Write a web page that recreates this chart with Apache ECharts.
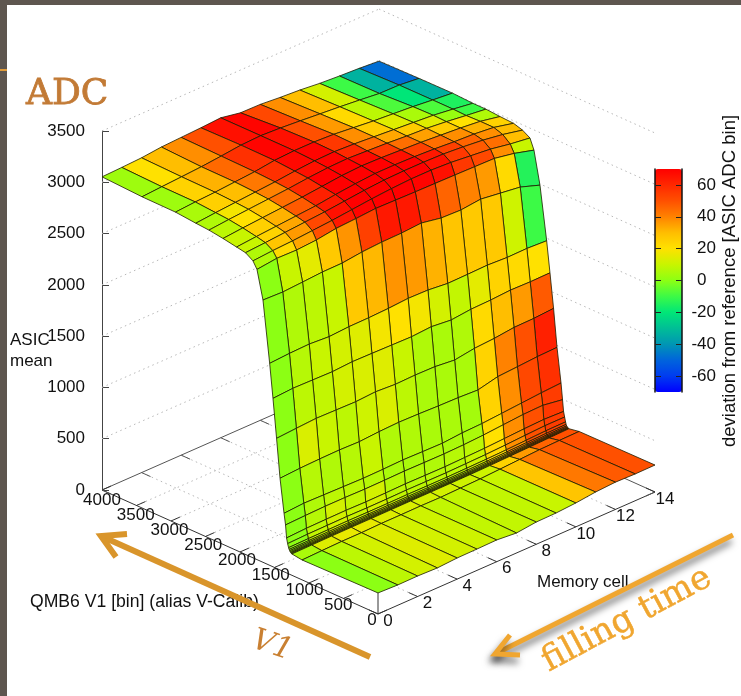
<!DOCTYPE html>
<html><head><meta charset="utf-8">
<style>html,body{margin:0;padding:0;background:#fff;overflow:hidden}#c{width:741px;height:696px}</style>
<script src="https://cdn.jsdelivr.net/npm/echarts@6/dist/echarts.min.js"></script></head>
<body><div id="c"></div>
<script>
const memoryCells=[0,1,2,3,4,5,6,7,8,9,10,11,12,13,14];
const v1Rows=[4000,3420,2935,2640,2450,2246,2050,1920,1812,1754,1667,1570,1522,1470,1420,1362,1340,1325,1310,1296,1288,1280,1272,1264,1256,1248,1100,0];
const meanRows=[
[3053,3060,3069,3089,3098,3107,3119,3083,3080,3063,3050,3030,3017,3007,2992],
[3034,3047,3059,3072,3091,3113,3120,3110,3095,3078,3062,3043,3022,3019,2999],
[3031,3045,3055,3070,3085,3110,3120,3120,3110,3090,3070,3055,3040,3020,3002],
[3012,3030,3045,3060,3075,3095,3110,3115,3105,3090,3075,3060,3045,3020,2992],
[3002,3020,3035,3050,3065,3085,3100,3105,3095,3085,3070,3060,3040,3015,2992],
[2982,3000,3015,3030,3045,3065,3085,3095,3090,3080,3070,3055,3040,3020,2982],
[2958,2975,2990,3005,3020,3045,3065,3080,3080,3075,3065,3050,3040,3020,2975],
[2942,2955,2970,2985,3000,3020,3040,3055,3060,3060,3055,3040,3020,2990,2948],
[2895,2910,2920,2935,2950,2970,2990,3005,3015,3015,3005,2985,2965,2930,2904],
[2829,2852,2848,2861,2889,2900,2914,2910,2906,2903,2900,2896,2892,2856,2803],
[2557,2550,2562,2575,2577,2600,2612,2615,2628,2592,2585,2606,2580,2554,2488],
[1969,1981,1987,1974,1986,1988,1995,2008,2004,1984,1987,1992,1982,1985,1975],
[1642,1655,1651,1647,1659,1656,1652,1648,1661,1641,1661,1666,1678,1674,1677],
[1268,1281,1293,1289,1285,1297,1285,1290,1287,1267,1296,1308,1330,1333,1346],
[894,906,912,915,910,923,930,926,919,915,905,950,962,975,981],
[570,583,579,575,571,574,580,576,573,589,595,610,625,640,651],
[463,470,475,475,472,474,478,476,475,480,490,505,520,525,495],
[341,350,353,355,352,354,358,356,355,360,365,375,385,392,385],
[290,296,298,300,298,299,302,301,300,304,308,316,326,335,335],
[255,258,260,262,261,261,263,262,262,265,268,274,282,290,292],
[240,242,244,245,244,245,246,246,246,248,251,256,262,268,270],
[230,232,233,234,234,234,235,235,236,237,240,244,250,255,258],
[222,224,225,226,226,226,227,227,228,229,232,236,242,247,250],
[216,218,219,220,220,221,222,222,222,224,227,231,237,242,246],
[212,214,215,216,216,217,218,218,219,220,223,228,233,238,243],
[208,210,212,213,213,214,215,215,216,217,220,225,230,235,240],
[194,200,205,205,210,210,212,210,215,220,230,240,250,255,258],
[205,198,200,194,206,208,212,195,217,220,233,255,266,261,263]
];
const deviationRows=[
[3,20,30,38,50,66,69,52,38,30,12,-10,-33,-48],
[3,24,32,45,58,69,66,50,36,22,8,-8,-20,-33],
[5,25,30,42,58,68,69,56,38,26,14,5,-8,-15],
[6,18,28,40,56,66,69,60,44,34,26,14,2,-10],
[8,20,28,44,60,70,70,68,56,44,35,26,20,6],
[10,25,32,48,62,70,70,70,66,54,44,38,32,24],
[10,24,34,50,64,70,70,70,70,64,54,46,38,30],
[6,28,36,52,66,70,70,70,70,66,56,48,44,30],
[6,22,34,50,64,69,70,70,69,66,56,52,38,10],
[0,10,15,27,37,54,64,64,56,46,40,36,22,-14],
[0,6,8,10,27,31,37,36,32,28,27,27,11,-10],
[0,7,10,12,14,18,20,18,12,9,15,24,22,20],
[0,8,9,12,13,14,10,6,5,6,22,30,36,48],
[0,13,10,8,11,13,8,5,5,5,24,40,50,62],
[0,7,6,7,10,6,6,5,5,4,24,38,52,58],
[0,6,8,8,7,5,5,6,5,5,22,38,50,55],
[0,7,12,9,12,7,6,6,7,8,20,38,50,56],
[0,8,12,10,12,8,7,7,7,10,22,38,50,55],
[0,9,12,10,12,9,8,8,8,11,22,38,50,55],
[1,9,12,10,12,10,8,8,8,12,22,38,50,54],
[1,9,12,10,12,10,8,8,8,12,22,38,50,54],
[2,9,12,11,11,10,8,8,8,11,22,37,49,53],
[2,10,12,11,11,10,8,8,8,11,22,37,48,52],
[3,10,12,11,11,10,8,8,8,10,22,36,47,51],
[3,10,12,12,10,9,8,8,8,10,22,36,46,50],
[5,14,16,16,14,13,12,12,11,11,24,36,46,50],
[0,8,12,14,12,11,9,9,9,10,28,42,48,50]
];
const v1Ticks=[0,500,1000,1500,2000,2500,3000,3500,4000];
const cellTicks=[0,2,4,6,8,10,12,14];
const meanTicks=[0,500,1000,1500,2000,2500,3000,3500];
const deviationTicks=[-60,-40,-20,0,20,40,60];
const colourStops=['#0000ff','#003cf0','#0064dc','#0096b4','#00be96','#00e678','#3cfa46','#8cff14','#c8f500','#ffe100','#ffbe00','#ff8200','#ff5000','#ff2800','#ff0000'];

// Oblique view of the box: gives the axis values for a (V1, cell, mean) point.
const V_MAX=4000,C_MAX=14;
function proj(v,c,z){
  const a=v/V_MAX,b=c/C_MAX;
  return [276*(1-a)+277*b, z-1208.6*(1-a)+1189*b];
}
const SOLID=0,DOTTED=1,DARK=2;
const frame=[];
function seg(v1,c1,z1,v2,c2,z2,k){frame.push([v1,c1,z1,v2,c2,z2,k]);}
meanTicks.forEach(z=>{ if(z>0){seg(V_MAX,0,z,V_MAX,C_MAX,z,DOTTED);seg(V_MAX,C_MAX,z,0,C_MAX,z,DOTTED);} });
v1Ticks.forEach(v=>{ if(v>0&&v<V_MAX) seg(v,0,0,v,C_MAX,0,DOTTED); });
cellTicks.forEach(c=>{ if(c>0&&c<C_MAX) seg(0,c,0,V_MAX,c,0,DOTTED); });
seg(V_MAX,0,0,V_MAX,C_MAX,0,SOLID);
seg(V_MAX,C_MAX,0,0,C_MAX,0,SOLID);
seg(0,0,0,V_MAX,0,0,DARK);
seg(0,0,0,0,C_MAX,0,DARK);
seg(0,0,0,0,0,meanRows[meanRows.length-1][0],DARK);
v1Ticks.forEach(v=>{ seg(v,0,0,v,0.45,0,DARK); seg(v,C_MAX,0,v,C_MAX-0.45,0,SOLID); });
cellTicks.forEach(c=>{ seg(0,c,0,130,c,0,DARK); seg(V_MAX,c,0,V_MAX-130,c,0,SOLID); });

const quads=[];
deviationRows.forEach((row,j)=>{
  for(let i=row.length-1;i>=0;i--) quads.push([i,j,row[i]]);
});
const tickLabels=[];
v1Ticks.forEach(v=>tickLabels.push([v,0,String(v),-6+6*v/V_MAX,6+4*v/V_MAX]));
cellTicks.forEach(c=>tickLabels.push([0,c,String(c),10,7]));

const FONT='"Liberation Sans",Arial,sans-serif';
const chart=echarts.init(document.getElementById('c'),null,{renderer:'canvas',width:741,height:696});
const lab=(t,x,y,extra)=>({type:'text',x,y,z:50,style:Object.assign({text:t,fill:'#111',font:'17px '+FONT},extra||{})});
chart.setOption({
  animation:false,
  backgroundColor:'#ffffff',
  grid:[
    {left:102,top:131,width:553,height:359,containLabel:false},
    {left:655,top:169,width:27,height:223}
  ],
  xAxis:[
    {gridIndex:0,type:'value',min:0,max:553,show:false},
    {gridIndex:1,type:'value',min:0,max:1,show:false}
  ],
  yAxis:[
    {gridIndex:0,type:'value',min:0,max:3500,interval:500,position:'left',
     axisLine:{show:true,lineStyle:{color:'#444',width:1}},
     axisTick:{show:true,inside:true,length:7,lineStyle:{color:'#444'}},
     axisLabel:{margin:17,fontSize:17,color:'#111',fontFamily:FONT,formatter:v=>String(v)},splitLine:{show:false}},
    {gridIndex:1,type:'value',min:-70,max:70,position:'left',
     axisLine:{show:true,lineStyle:{color:'#111',width:1.5}},
     axisTick:{show:true,inside:true,length:6,lineStyle:{color:'#222'},customValues:deviationTicks},
     axisLabel:{show:false},splitLine:{show:false},z:10},
    {gridIndex:1,type:'value',min:-70,max:70,position:'right',
     axisLine:{show:true,lineStyle:{color:'#111',width:1.5}},
     axisTick:{show:true,inside:true,length:6,lineStyle:{color:'#222'},customValues:deviationTicks},
     axisLabel:{margin:34,fontSize:17,color:'#111',fontFamily:FONT,align:'right',
       customValues:deviationTicks,formatter:v=>v===0?'0\u00a0\u00a0':String(v)},splitLine:{show:false},z:10}
  ],
  visualMap:{type:'continuous',seriesIndex:1,dimension:2,min:-70,max:70,left:655,top:169,itemWidth:27,itemHeight:223,
    padding:0,calculable:false,hoverLink:false,text:null,showLabel:false,inRange:{color:colourStops},z:5},
  series:[
    {type:'custom',name:'frame',coordinateSystem:'cartesian2d',xAxisIndex:0,yAxisIndex:0,clip:false,silent:true,
     data:frame,encode:{x:[],y:[]},
     renderItem(p,api){
       const a=api.coord(proj(api.value(0),api.value(1),api.value(2)));
       const b=api.coord(proj(api.value(3),api.value(4),api.value(5)));
       const k=api.value(6);
       return {type:'line',shape:{x1:a[0],y1:a[1],x2:b[0],y2:b[1]},
         style:k===DOTTED?{stroke:'#b8b8b8',lineWidth:1,lineDash:[1.5,3.5]}:{stroke:k===DARK?'#333':'#555',lineWidth:1}};
     }},
    {type:'custom',name:'surface',coordinateSystem:'cartesian2d',xAxisIndex:0,yAxisIndex:0,clip:false,silent:true,
     data:quads,encode:{x:[],y:[]},
     renderItem(p,api){
       const i=api.value(0),j=api.value(1);
       const pt=(r,c)=>api.coord(proj(v1Rows[r],memoryCells[c],meanRows[r][c]));
       return {type:'polygon',shape:{points:[pt(j,i),pt(j,i+1),pt(j+1,i+1),pt(j+1,i)]},
         style:{fill:api.visual('color'),stroke:'#1c1c00',lineWidth:0.8,lineJoin:'round'}};
     }},
    {type:'custom',name:'box labels',coordinateSystem:'cartesian2d',xAxisIndex:0,yAxisIndex:0,clip:false,silent:true,
     data:tickLabels.map((t,i)=>[t[0],t[1],i]),encode:{x:[],y:[]},
     renderItem(p,api){
       const t=tickLabels[api.value(2)];
       const a=api.coord(proj(t[0],t[1],0));
       return {type:'text',x:a[0]+t[3],y:a[1]+t[4],style:{text:t[2],fill:'#111',font:'17px '+FONT,align:'center',verticalAlign:'middle'}};
     }}
  ],
  graphic:[
    {type:'rect',shape:{x:0,y:0,width:741,height:5},z:40,style:{fill:'#5e564f'}},
    {type:'rect',shape:{x:0,y:0,width:7,height:696},z:40,style:{fill:'#5e564f'}},
    {type:'rect',shape:{x:0,y:69,width:7,height:2},z:41,style:{fill:'#e09b3a'}},
    {type:'text',x:26,y:95,z:50,style:{text:'ADC',fill:'#c27a35',stroke:'#c27a35',lineWidth:0.8,font:'36px "DejaVu Serif",serif',align:'left',verticalAlign:'middle'}},
    lab('ASIC',10,340,{verticalAlign:'middle'}),
    lab('mean',10,361,{verticalAlign:'middle'}),
    lab('QMB6 V1 [bin] (alias V-Calib)',30,602,{verticalAlign:'middle',font:'17.6px '+FONT}),
    lab('Memory cell',537,582,{verticalAlign:'middle'}),
    {type:'text',x:730,y:281,rotation:Math.PI/2,z:50,style:{text:'deviation from reference [ASIC ADC bin]',fill:'#111',font:'18.5px '+FONT,align:'center',verticalAlign:'middle'}},
    {type:'polyline',z:60,shape:{points:[[370,657],[101,536]]},style:{stroke:'#d9952b',lineWidth:6,fill:null}},
    {type:'polyline',z:60,shape:{points:[[127,534],[101,536],[116,557]]},style:{stroke:'#d9952b',lineWidth:6,fill:null}},
    {type:'text',x:272,y:646,rotation:-0.33,z:60,style:{text:'V1',fill:'#c98032',font:'italic 30px "DejaVu Serif",serif',align:'center',verticalAlign:'middle'}},
    {type:'polyline',z:60,shape:{points:[[733,535],[495,654]]},style:{stroke:'#f0a630',lineWidth:5,fill:null,shadowBlur:7,shadowColor:'rgba(0,0,0,0.55)',shadowOffsetX:-2,shadowOffsetY:6}},
    {type:'polyline',z:60,shape:{points:[[510,635],[495,654],[520,655]]},style:{stroke:'#f0a630',lineWidth:5,fill:null,shadowBlur:7,shadowColor:'rgba(0,0,0,0.55)',shadowOffsetX:-2,shadowOffsetY:6}},
    {type:'text',x:627,y:620,rotation:0.49,z:60,style:{text:'filling time',fill:'#f0a630',stroke:'#f0a630',lineWidth:0.5,font:'34px "DejaVu Serif",serif',align:'center',verticalAlign:'middle'}}
  ]
});
</script></body></html>
